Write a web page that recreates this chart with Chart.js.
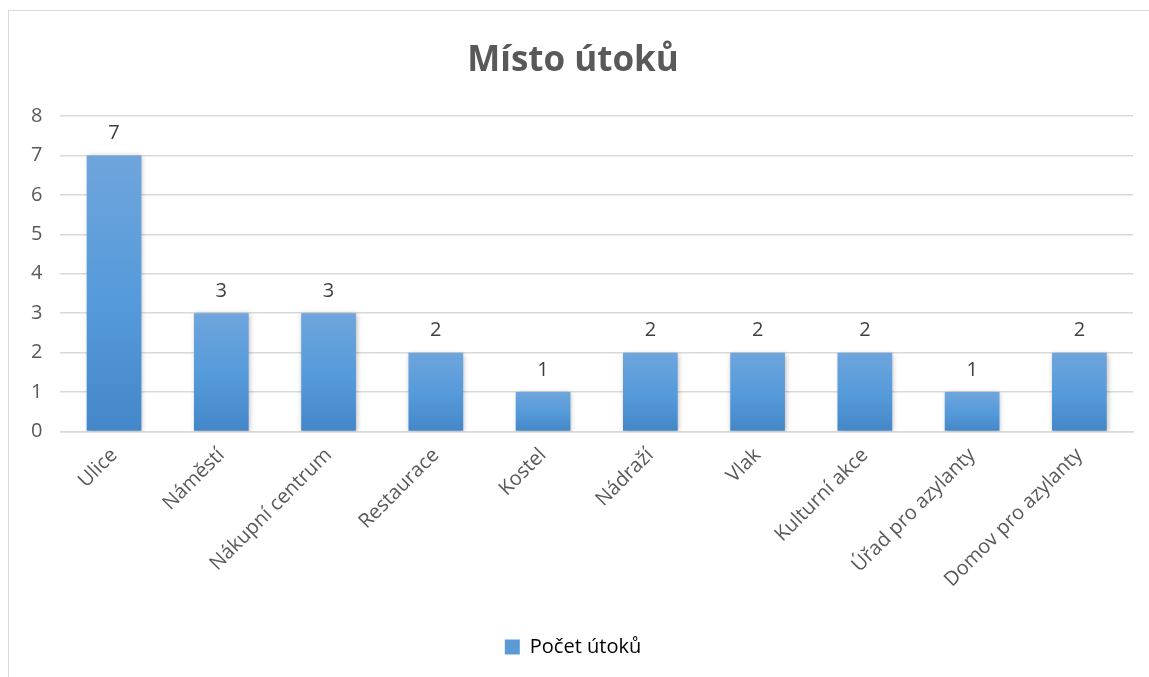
<!DOCTYPE html>
<html>
<head>
<meta charset="utf-8">
<script src="https://cdn.jsdelivr.net/npm/chart.js@4/dist/chart.umd.min.js"></script>
<style>
  html, body { margin: 0; padding: 0; background: #fff; overflow: hidden; }
  #box {
    position: absolute; left: 8px; top: 10px;
    width: 1150px; height: 680px;
    border: 1px solid #d9d9d9; box-sizing: border-box;
  }
  #wrap { position: absolute; left: 0; top: 0; width: 1140px; height: 666px; }
</style>
</head>
<body>
<div id="box"><div id="wrap"><canvas id="graf"></canvas></div></div>
<script>
const kategorie = ['Ulice', 'Náměstí', 'Nákupní centrum', 'Restaurace', 'Kostel', 'Nádraží', 'Vlak', 'Kulturní akce', 'Úřad pro azylanty', 'Domov pro azylanty'];
const pocetUtoku = [7, 3, 3, 2, 1, 2, 2, 2, 1, 2];
const yTicks = [0, 1, 2, 3, 4, 5, 6, 7, 8];

const seda = '#595959';
const pismo = "'Open Sans', 'Noto Sans', sans-serif";

// gradient per bar, top lighter, bottom darker
function barvaSloupce(context) {
  const chart = context.chart;
  if (!chart.chartArea || context.type !== 'data') return '#5b9bd5';
  const y = chart.scales.y;
  const top = y.getPixelForValue(context.parsed.y);
  const bottom = y.getPixelForValue(0);
  const g = chart.ctx.createLinearGradient(0, top, 0, bottom);
  g.addColorStop(0, '#6fa5dc');
  g.addColorStop(0.5, '#569bdb');
  g.addColorStop(1, '#4487c8');
  return g;
}

const stinPlugin = {
  id: 'stin',
  beforeDatasetDraw(chart) {
    const ctx = chart.ctx;
    ctx.save();
    ctx.shadowColor = 'rgba(0,0,0,0.28)';
    ctx.shadowBlur = 5;
    ctx.shadowOffsetX = 1;
    ctx.shadowOffsetY = 1;
  },
  afterDatasetDraw(chart) {
    chart.ctx.restore();
  }
};

const popiskyPlugin = {
  id: 'popisky',
  afterDatasetsDraw(chart) {
    const ctx = chart.ctx;
    const meta = chart.getDatasetMeta(0);
    ctx.save();
    ctx.font = '20px ' + pismo;
    ctx.fillStyle = '#404040';
    ctx.textAlign = 'center';
    ctx.textBaseline = 'bottom';
    meta.data.forEach((bar, i) => {
      ctx.fillText(String(pocetUtoku[i]), bar.x, bar.y - 12);
    });
    ctx.restore();
  }
};

const graf = document.getElementById('graf');

new Chart(graf, {
  type: 'bar',
  data: {
    labels: kategorie,
    datasets: [{
      label: 'Počet útoků',
      data: pocetUtoku,
      backgroundColor: barvaSloupce,
      borderWidth: 0,
      categoryPercentage: 1,
      barPercentage: 0.51
    }]
  },
  options: {
    responsive: true,
    maintainAspectRatio: false,
    animation: false,
    layout: { padding: { left: 4, right: 16, top: 0, bottom: 10 } },
    plugins: {
      title: {
        display: true,
        text: 'Místo útoků',
        color: seda,
        font: { family: pismo, size: 35, weight: 'bold' },
        padding: { top: 29, bottom: 34 }
      },
      legend: {
        position: 'bottom',
        labels: {
          color: seda,
          font: { family: pismo, size: 20 },
          boxWidth: 15,
          boxHeight: 15,
          padding: 8,
          generateLabels(chart) {
            return [{
              text: 'Počet útoků',
              fillStyle: '#5b9bd5',
              strokeStyle: '#5b9bd5',
              lineWidth: 0,
              datasetIndex: 0
            }];
          }
        }
      },
      tooltip: { enabled: false }
    },
    scales: {
      x: {
        grid: { display: false },
        border: { color: '#d9d9d9', width: 1.5 },
        afterFit(axis) {
          axis.height += 33;
        },
        ticks: {
          color: seda,
          font: { family: pismo, size: 20 },
          minRotation: 45,
          maxRotation: 45,
          padding: 4
        }
      },
      y: {
        min: 0,
        max: 8,
        afterBuildTicks(axis) {
          axis.ticks = yTicks.map(v => ({ value: v }));
        },
        grid: { color: '#d9d9d9', lineWidth: 1.5, drawTicks: false },
        border: { display: false },
        ticks: {
          color: seda,
          font: { family: pismo, size: 20 },
          padding: 18
        }
      }
    }
  },
  plugins: [stinPlugin, popiskyPlugin]
});
</script>
</body>
</html>
